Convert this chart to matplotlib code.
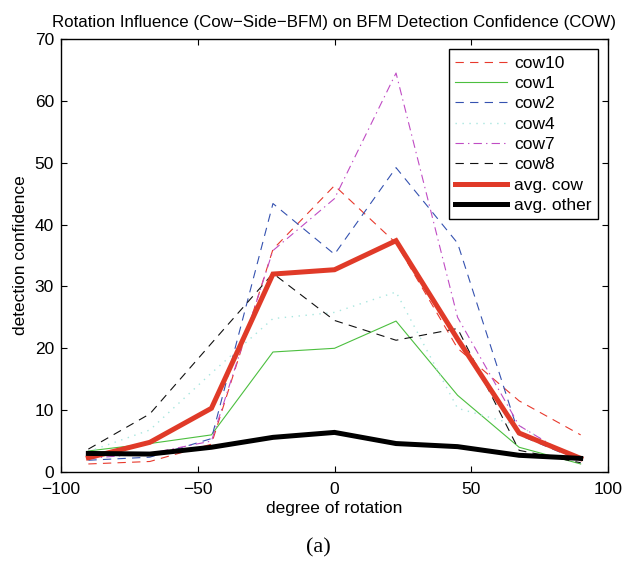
import matplotlib
matplotlib.use("Agg")
import matplotlib.pyplot as plt

plt.rcParams['font.family'] = ['Liberation Sans', 'DejaVu Sans']
plt.rcParams['lines.scale_dashes'] = False

# data
angles = [-90, -67.5, -45, -22.5, 0, 22.5, 45, 67.5, 90]
cow10 = [1.3, 1.7, 4.5, 36.0, 46.3, 37.0, 20.0, 11.5, 6.0]
cow1 = [3.4, 4.6, 6.0, 19.4, 20.0, 24.4, 12.4, 4.0, 1.3]
cow2 = [1.9, 2.4, 5.4, 43.4, 35.2, 49.2, 37.0, 6.0, 1.8]
cow4 = [3.3, 6.8, 16.0, 24.8, 25.8, 29.1, 10.3, 7.5, 1.5]
cow7 = [2.2, 3.0, 5.0, 35.8, 44.2, 64.5, 25.0, 7.5, 1.5]
cow8 = [3.7, 9.4, 20.8, 32.1, 24.5, 21.3, 23.2, 3.5, 1.5]
avg_cow = [2.3, 4.8, 10.3, 32.0, 32.7, 37.4, 21.5, 6.3, 2.2]
avg_other = [3.0, 2.9, 4.0, 5.6, 6.4, 4.6, 4.1, 2.7, 2.2]

xticks = [-100, -50, 0, 50, 100]
yticks = [0, 10, 20, 30, 40, 50, 60, 70]

fig = plt.figure(figsize=(6.23, 5.63), dpi=100)
ax = fig.add_axes([61/623, 1-472/563, (608-61)/623, (472-39)/563])

ax.plot(angles, cow10, color='#e8392c', lw=0.8, ls=(0, (6, 4.5)), label='cow10')
ax.plot(angles, cow1, color='#4cbf3f', lw=0.8, ls='-', label='cow1')
ax.plot(angles, cow2, color='#3552b0', lw=0.8, ls=(0, (6, 4.5)), label='cow2')
ax.plot(angles, cow4, color='#a8e6df', lw=1.0, ls=(0, (1, 4)), label='cow4')
ax.plot(angles, cow7, color='#c04cc4', lw=0.8, ls=(0, (6, 3, 1, 3)), label='cow7')
ax.plot(angles, cow8, color='#111111', lw=0.8, ls=(0, (6, 4.5)), label='cow8')
ax.plot(angles, avg_cow, color='#e03a28', lw=3.6, ls='-', label='avg. cow', solid_joinstyle='miter')
ax.plot(angles, avg_other, color='#000000', lw=3.6, ls='-', label='avg. other', solid_joinstyle='miter')

ax.set_xlim(-100, 100)
ax.set_ylim(0, 70)
ax.set_xticks(xticks)
ax.set_yticks(yticks)
ax.set_xticklabels(['\u2212100', '\u221250', '0', '50', '100'])
ax.tick_params(direction='in', length=4, width=0.8, top=True, right=True, labelsize=12.5)
ax.tick_params(axis='x', pad=7)
ax.tick_params(axis='y', pad=5)
for s in ax.spines.values():
    s.set_linewidth(1.0)

ax.set_xlabel('degree of rotation', fontsize=12.5, labelpad=3)
ax.set_ylabel('detection confidence', fontsize=12.5, labelpad=5)
ax.set_title('Rotation Influence (Cow\u2212Side\u2212BFM) on BFM Detection Confidence (COW)', fontsize=12.2, pad=9)

leg = ax.legend(loc='upper right', fontsize=12.5, handlelength=3.0, handletextpad=0.4,
                borderpad=0.35, labelspacing=0.3, borderaxespad=0.6, fancybox=False,
                framealpha=1, edgecolor='black')
leg.get_frame().set_linewidth(1.0)

fig.text(318/623, 1-548/563, '(a)', fontsize=16, family='Liberation Serif', ha='center', va='center')

fig.savefig('out.png', dpi=100)
